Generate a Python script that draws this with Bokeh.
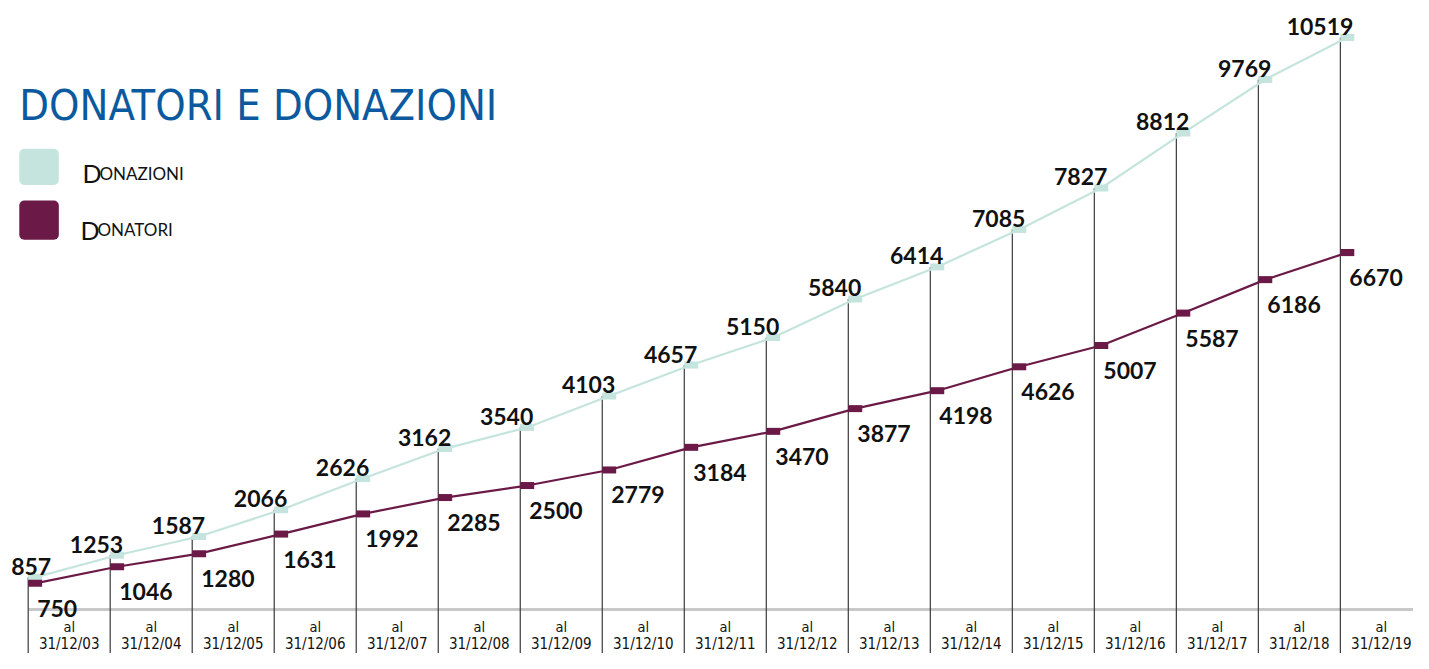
from bokeh.plotting import figure
from bokeh.models import Range1d, ColumnDataSource
from bokeh.core.properties import value
from bokeh.embed import file_html
from bokeh.resources import INLINE

# ---- data ----
dates = ["31/12/03", "31/12/04", "31/12/05", "31/12/06", "31/12/07", "31/12/08",
         "31/12/09", "31/12/10", "31/12/11", "31/12/12", "31/12/13", "31/12/14",
         "31/12/15", "31/12/16", "31/12/17", "31/12/18", "31/12/19"]
donazioni = [857, 1253, 1587, 2066, 2626, 3162, 3540, 4103, 4657, 5150, 5840,
             6414, 7085, 7827, 8812, 9769, 10519]
donatori = [750, 1046, 1280, 1631, 1992, 2285, 2500, 2779, 3184, 3470, 3877,
            4198, 4626, 5007, 5587, 6186, 6670]
title = "DONATORI E DONAZIONI"
legend_names = ["Donazioni", "Donatori"]

C_LIGHT = "#c5e4dd"
C_DARK = "#6b1a47"
C_TITLE = "#0b5aa0"

W, H = 1413, 653
RW, RH = 1429, 669    # reference layout size, scaled into W x H
STEP = 82.94          # ref px per category
X0 = 28               # ref x of first category line
Y0 = 640              # ref y of value 0
S = 602 / 10519       # ref px per unit


def px(ref_x):
    return (ref_x - X0) / STEP


def py(ref_y):
    return (Y0 - ref_y) / S


p = figure(width=W, height=H, output_backend="svg", toolbar_location=None,
           x_range=Range1d(px(0), px(RW)),
           y_range=Range1d(py(RH), py(0)),
           min_border=0)
p.axis.visible = False
p.grid.visible = False
p.outline_line_color = None
p.background_fill_color = "white"

n = len(dates)
idx = list(range(n))
mx = [i + 7 / STEP for i in idx]
ybot = py(RH + 5)

# grey baseline
p.segment(x0=[px(X0)], x1=[px(RW + 5)], y0=[py(624)], y1=[py(624)],
          line_color="#c8c8c8", line_width=3)

# vertical drop lines
p.segment(x0=idx, x1=idx, y0=donazioni, y1=[ybot] * n,
          line_color="#3a3a3a", line_width=1.2)

# series lines
p.line(mx, donazioni, line_color=C_LIGHT, line_width=2.2)
p.line(mx, donatori, line_color=C_DARK, line_width=2.2)

# markers
p.rect(x=mx, y=donazioni, width=14, height=7, width_units="screen",
       height_units="screen", fill_color=C_LIGHT, line_color=None)
p.rect(x=mx, y=donatori, width=14, height=7, width_units="screen",
       height_units="screen", fill_color=C_DARK, line_color=None)

num_font = value("Lato")
# donazioni labels (above, right aligned)
dz_dx = [13 + (10 if i == 0 else 0) for i in idx]
src_dz = ColumnDataSource(dict(x=idx, y=donazioni, t=[str(v) for v in donazioni], dx=dz_dx))
p.text(x="x", y="y", text="t", x_offset="dx", y_offset=-11, source=src_dz,
       text_align="right", text_baseline="alphabetic", text_font=num_font,
       text_font_style="bold", text_font_size="23px", text_color="#111111")

# donatori labels (below, left aligned)
p.text(x=idx, y=donatori, text=[str(v) for v in donatori], x_offset=9, y_offset=25,
       text_align="left", text_baseline="alphabetic", text_font=num_font,
       text_font_style="bold", text_font_size="23px", text_color="#111111")

cond = value("Liberation Sans Narrow, DejaVu Sans Condensed, sans-serif")
# category labels
cx = [i + 0.5 for i in idx]
p.text(x=cx, y=[py(642)] * n, text=["al"] * n, text_align="center",
       text_baseline="alphabetic", text_font=cond, text_font_size="14.5px",
       text_color="#111111")
p.text(x=cx, y=[py(659)] * n, text=dates, text_align="center",
       text_baseline="alphabetic", text_font=cond, text_font_size="15px",
       text_color="#111111")

# title
p.text(x=[px(19)], y=[py(107)], text=[title], text_align="left",
       text_baseline="alphabetic", text_font=cond, text_font_size="43px",
       text_color=C_TITLE)

# legend
p.quad(left=[px(19)], right=[px(59)], top=[py(152)], bottom=[py(189)],
       fill_color=C_LIGHT, line_color=None, border_radius=5)
p.quad(left=[px(19)], right=[px(59)], top=[py(205)], bottom=[py(245)],
       fill_color=C_DARK, line_color=None, border_radius=5)
leg_font = value("Lato")
for name, base, xd in [(legend_names[0], 177, 83), (legend_names[1], 235, 81)]:
    p.text(x=[px(xd)], y=[py(base)], text=[name[0]], text_align="left",
           text_baseline="alphabetic", text_font=leg_font, text_font_size="25px",
           text_color="#111111")
    p.text(x=[px(xd + 17)], y=[py(base)], text=[name[1:].upper()], text_align="left",
           text_baseline="alphabetic", text_font=leg_font, text_font_size="17px",
           text_color="#111111")

open("out.html", "w").write(file_html(p, INLINE))
